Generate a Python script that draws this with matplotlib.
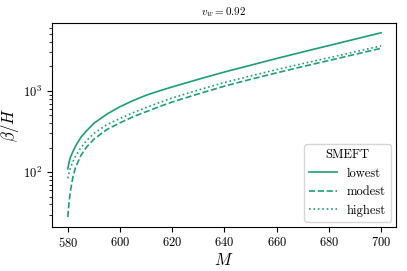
import matplotlib
matplotlib.use("Agg")
import matplotlib.pyplot as plt

plt.rcParams['font.family'] = 'serif'
plt.rcParams['font.serif'] = ['cmr10']
plt.rcParams['mathtext.fontset'] = 'cm'
plt.rcParams['axes.formatter.use_mathtext'] = True

# values
M = [580, 580.5, 581, 582, 583, 585, 587, 590, 595, 600, 605, 610, 615, 620,
     630, 640, 650, 660, 670, 680, 690, 700]
lowest = [110, 132, 152, 180, 210, 268, 318, 400, 518, 640, 760, 885, 1000, 1120,
          1390, 1710, 2070, 2510, 3020, 3620, 4340, 5200]
modest = [28, 43, 58, 88, 115, 160, 200, 255, 335, 405, 480, 555, 640, 730,
          920, 1145, 1390, 1670, 1995, 2370, 2820, 3350]
highest = [84, 98, 112, 135, 158, 200, 240, 300, 385, 458, 540, 624, 718, 818,
           1026, 1270, 1530, 1830, 2170, 2560, 3030, 3585]

color = '#1b9e77'

fig, ax = plt.subplots(figsize=(4.07, 2.71), dpi=100)
ax.plot(M, lowest, '-', color=color, lw=1.2, label='lowest')
ax.plot(M, modest, '--', color=color, lw=1.2, label='modest')
ax.plot(M, highest, ':', color=color, lw=1.2, label='highest')
ax.set_yscale('log')
ax.set_ylim(21.4, 6800)
ax.set_xlim(574, 705.7)
ax.set_xlabel(r'$M$', fontsize=12, labelpad=1)
ax.set_ylabel(r'$\beta/H$', fontsize=12, labelpad=2)
ax.set_title(r'$v_w = 0.92$', fontsize=8)
ax.tick_params(labelsize=9)
ax.legend(title='SMEFT', loc='lower right', fontsize=9, title_fontsize=9,
          handlelength=2.2, borderaxespad=0.4)

fig.subplots_adjust(left=0.128, right=0.973, top=0.914, bottom=0.164)
fig.savefig('out.png')
